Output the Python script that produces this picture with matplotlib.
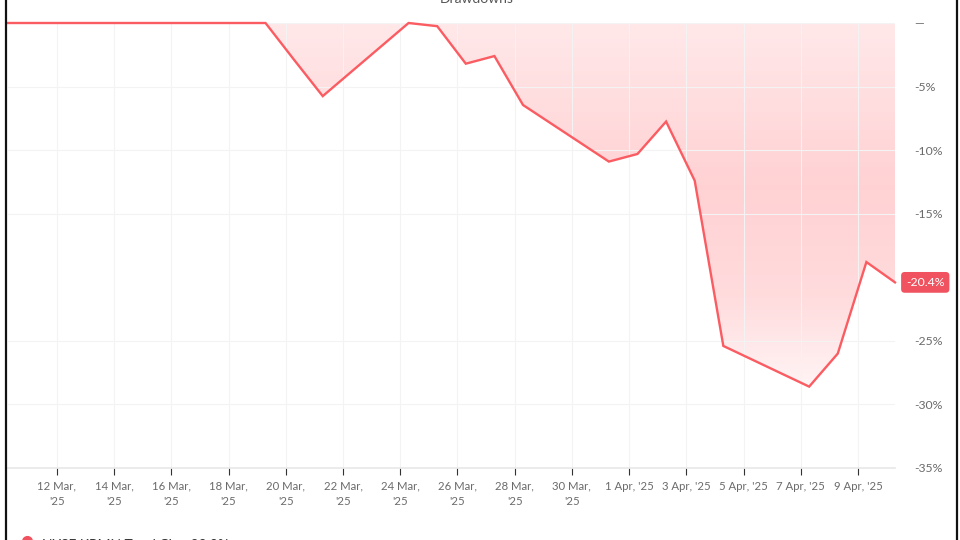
import matplotlib
matplotlib.use("Agg")
import matplotlib.pyplot as plt
import matplotlib.dates as mdates
from matplotlib.colors import LinearSegmentedColormap
from matplotlib.lines import Line2D
import numpy as np
import pandas as pd

plt.rcParams['font.family'] = ['Lato', 'DejaVu Sans']

# 交易日 (时间戳约在当天 07:00)
dates = pd.to_datetime([
    "2025-03-10", "2025-03-11", "2025-03-12", "2025-03-13", "2025-03-14",
    "2025-03-17", "2025-03-18", "2025-03-19", "2025-03-20", "2025-03-21",
    "2025-03-24", "2025-03-25", "2025-03-26", "2025-03-27", "2025-03-28",
    "2025-03-31", "2025-04-01", "2025-04-02", "2025-04-03", "2025-04-04",
    "2025-04-07", "2025-04-08", "2025-04-09", "2025-04-10",
]) + pd.Timedelta(hours=7)

# 回撤 (%)
drawdown = [
    0.0, 0.0, 0.0, 0.0, 0.0,
    0.0, 0.0, 0.0, -2.9, -5.75,
    0.0, -0.25, -3.2, -2.6, -6.45,
    -10.9, -10.3, -7.75, -12.4, -25.4,
    -28.6, -26.0, -18.8, -20.4,
]

tick_dates = pd.date_range("2025-03-12", "2025-04-09", freq="2D")
# -20% 刻度被最新值标签遮住
y_ticks = [0, -5, -10, -15, -25, -30, -35]
y_labels = ["\u2014", "-5%", "-10%", "-15%", "-25%", "-30%", "-35%"]

title = "Drawdowns"
legend_label = "NYSE:KRMN Total Chg: 20.0%"

line_color = "#fa5c62"
label_color = "#f0525f"
text_color = "#6b6b6b"

fig = plt.figure(figsize=(9.6, 5.4), dpi=100)
ax = fig.add_axes([8 / 960, 1 - 468 / 540, 887 / 960, 445 / 540])

x = mdates.date2num(dates)
y = np.array(drawdown)

# 渐变填充
ax.set_xlim(x[0], x[-1])
ax.set_ylim(-35, 0)
red = (1, 0.36, 0.39)
cmap = LinearSegmentedColormap.from_list("dd", [
    (0.0, (*red, 0.14)),
    (0.45, (*red, 0.28)),
    (0.75, (*red, 0.22)),
    (1.0, (*red, 0.07)),
])
grad = np.linspace(0, 1, 256).reshape(-1, 1)
img = ax.imshow(grad, cmap=cmap, aspect="auto",
                extent=[x[0], x[-1], y.min(), 0], origin="upper", zorder=1)
poly = ax.fill_between(x, y, 0, facecolor="none", edgecolor="none")
clip_path = poly.get_paths()[0]
img.set_clip_path(clip_path, transform=ax.transData)

ax.plot(x, y, color=line_color, lw=1.7, zorder=3, clip_on=False,
        solid_joinstyle="miter")

# 坐标轴
ax.set_xticks(mdates.date2num(tick_dates))
xlabels = []
for d in tick_dates:
    if d.month == 3:
        xlabels.append(f"{d.day} Mar,\n'25")
    else:
        xlabels.append(f"{d.day} Apr, '25")
ax.set_xticklabels(xlabels, fontsize=8.2, color=text_color, linespacing=1.45)
ax.tick_params(axis="x", length=5, width=0.8, color="#333333", pad=4)

ax.yaxis.tick_right()
ax.set_yticks(y_ticks)
ax.set_yticklabels(y_labels, fontsize=8.8, color=text_color)
ax.tick_params(axis="y", length=0, pad=14)

ax.grid(True, color="#f3f3f3", lw=0.8, zorder=0)
for s in ["top", "left", "right"]:
    ax.spines[s].set_visible(False)
ax.spines["bottom"].set_color("#e8e8e8")
ax.spines["bottom"].set_linewidth(1.2)

# 最新值标签
trans = ax.get_yaxis_transform()
ax.text(1.0 + 11 / 887, y[-1], f"{y[-1]:.1f}%", transform=trans,
        ha="left", va="center", fontsize=8.8, color="white", clip_on=False,
        zorder=5,
        bbox=dict(boxstyle="round,pad=0.4,rounding_size=0.3",
                  fc=label_color, ec="none"))

# 标题与图例 (被裁切)
fig.text(477 / 960, 1 - 3 / 540, title, ha="center", va="baseline",
         fontsize=10, color="#555555")
fig.add_artist(Line2D([27 / 960], [-1 / 540], marker="o", markersize=7,
                      color=label_color, transform=fig.transFigure, clip_on=False))
fig.text(42 / 960, -9 / 540, legend_label, ha="left", va="baseline",
         fontsize=10, color="#333333")

# 边框竖线
for xp in [6 / 960, 957 / 960]:
    fig.add_artist(Line2D([xp, xp], [0, 1], color="#111111", lw=1.6,
                          transform=fig.transFigure))

fig.savefig("out.png", dpi=100)
